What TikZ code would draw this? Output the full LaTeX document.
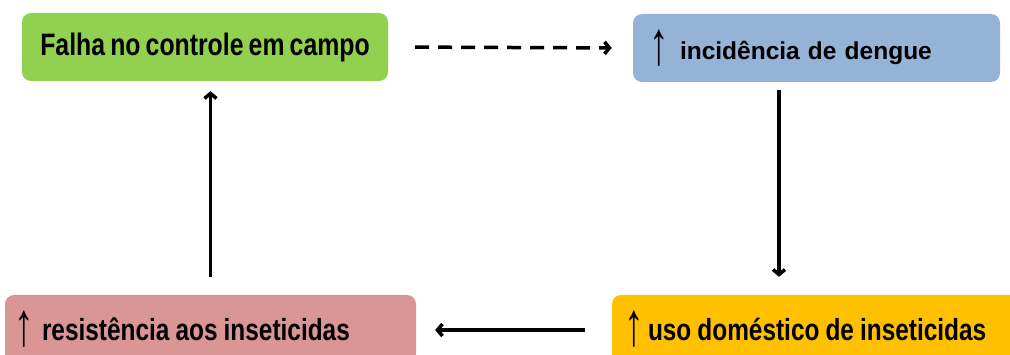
\documentclass[tikz,border=0pt]{standalone}
\usepackage{graphicx}
\usepackage{fontspec}
\setmainfont{Liberation Sans}
\newfontfamily\narrowfont[FakeStretch=0.8,WordSpace=0.75]{Liberation Sans}
\usetikzlibrary{arrows.meta}
\definecolor{cgreen}{HTML}{92D050}
\definecolor{cblue}{HTML}{95B3D7}
\definecolor{cpink}{HTML}{D99694}
\definecolor{cyellow}{HTML}{FFC000}
\newcommand{\upar}{\makebox[8pt][c]{\fontsize{30}{30}\selectfont\rmfamily\bfseries\raisebox{-0.17em}{\scalebox{1.3}[2.05]{↑}}}}
\begin{document}
\begin{tikzpicture}[x=1pt,y=-1pt,
  box/.style={rounded corners=9pt, minimum height=68pt, inner ysep=0pt, text=black},
  arr/.style={line width=3.5pt, -{Straight Barb[length=5pt,width=12pt]}},
  darr/.style={line width=3.5pt, dash pattern=on 14pt off 9pt, -{Straight Barb[length=5pt,width=12pt]}}]
\useasboundingbox (0,0) rectangle (1010,355);
\clip (0,0) rectangle (1010,355);
\node[box, fill=cgreen, minimum width=366pt, font=\narrowfont\bfseries\fontsize{31}{32}\selectfont] (green) at (205,47) {Falha no controle em campo};
\node[box, fill=cblue, text width=323pt, inner xsep=22pt, align=left, font=\bfseries\fontsize{24.5}{28}\selectfont] (blue) at (816.5,48) {\mbox{\upar\hspace{17pt}incidência de dengue}};
\node[box, fill=cpink, text width=381pt, inner xsep=15pt, align=left, font=\narrowfont\bfseries\fontsize{30.5}{32}\selectfont] (pink) at (210.5,329) {\mbox{\spaceskip=0.2em\upar\hspace{14pt}resistência aos inseticidas}};
\node[box, fill=cyellow, text width=374pt, inner xsep=18pt, align=left, font=\narrowfont\bfseries\fontsize{30.5}{32}\selectfont] (yellow) at (817,329) {\mbox{\spaceskip=0.2em\upar\hspace{10pt}uso doméstico de inseticidas}};
\draw[darr, shorten <=27pt, shorten >=21pt] (green.east) -- (blue.west);
\draw[arr, shorten <=8pt, shorten >=18pt] ([xshift=-37.5pt]blue.south) -- ([xshift=-37.5pt]blue.south |- yellow.north);
\draw[arr, shorten <=27pt, shorten >=19pt] ([yshift=-1pt]yellow.west) -- ([yshift=-1pt]pink.east);
\draw[arr, shorten <=18pt, shorten >=10pt] (pink.north) -- (pink.north |- green.south);
\end{tikzpicture}
\end{document}
